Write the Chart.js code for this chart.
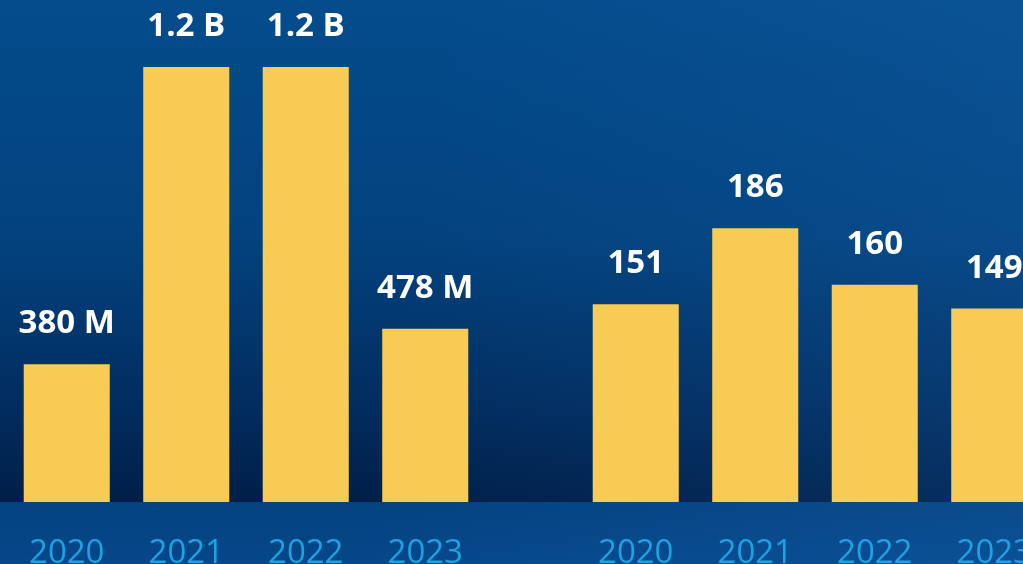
<!DOCTYPE html>
<html>
<head>
<meta charset="utf-8">
<script src="https://cdn.jsdelivr.net/npm/chart.js@4.4.1/dist/chart.umd.min.js"></script>
<style>
  html, body { margin: 0; padding: 0; }
  body {
    width: 1023px; height: 564px; overflow: hidden; position: relative;
    background:
      linear-gradient(100deg, rgba(255,255,255,0) 40%, rgba(40,120,200,0.18) 100%),
      linear-gradient(180deg, #044c8c 0px, #03427e 240px, #022c5e 410px, #001f48 502px, #04427f 502px, #05478a 564px);
  }
  .box { position: absolute; top: 0; width: 478px; height: 600px; }
  #left { left: 7px; }
  #right { left: 576px; }
</style>
</head>
<body>
<div class="box" id="left"><canvas id="chartLeft"></canvas></div>
<div class="box" id="right"><canvas id="chartRight"></canvas></div>
<script>
/* --------------- Data --------------------- */
const years = ["2020", "2021", "2022", "2023"];
// left group, millions
const leftValues = [380, 1200, 1200, 478];
const leftLabels = ["380 M", "1.2 B", "1.2 B", "478 M"];
// right group
const rightValues = [151, 186, 160, 149];
const rightLabels = ["151", "186", "160", "149"];

/* --------------- Value labels above bars --------------------- */
const topLabels = {
  id: "topLabels",
  afterDatasetsDraw(chart, args, opts) {
    const ctx = chart.ctx;
    const meta = chart.getDatasetMeta(0);
    ctx.save();
    ctx.fillStyle = "#ffffff";
    ctx.font = "700 33px 'Open Sans'";
    ctx.textAlign = "center";
    ctx.textBaseline = "alphabetic";
    meta.data.forEach((bar, i) => {
      ctx.fillText(opts.labels[i], bar.x, bar.y - 31);
    });
    ctx.restore();
  },
};

const makeChart = (id, values, labels, min, max) => {
  return new Chart(document.getElementById(id), {
    type: "bar",
    plugins: [topLabels],
    data: {
      labels: years,
      datasets: [
        {
          data: values,
          backgroundColor: "#f8cb55",
          barPercentage: 0.72,
          categoryPercentage: 1,
        },
      ],
    },
    options: {
      responsive: true,
      maintainAspectRatio: false,
      animation: false,
      layout: { padding: 0 },
      plugins: {
        legend: { display: false },
        tooltip: { enabled: false },
        topLabels: { labels: labels },
      },
      scales: {
        x: {
          grid: { display: false, drawTicks: false },
          border: { display: false },
          ticks: {
            color: "#1ca3e3",
            padding: 32,
            font: { family: "'Open Sans'", size: 33, weight: 400 },
          },
          afterFit: (scale) => {
            scale.height = 98;
            scale.paddingLeft = 0;
            scale.paddingRight = 0;
          },
        },
        y: {
          display: false,
          min: min,
          max: max,
        },
      },
    },
  });
};

makeChart("chartLeft", leftValues, leftLabels, 0, 1385);
makeChart("chartRight", rightValues, rightLabels, 60, 291);
</script>
</body>
</html>
